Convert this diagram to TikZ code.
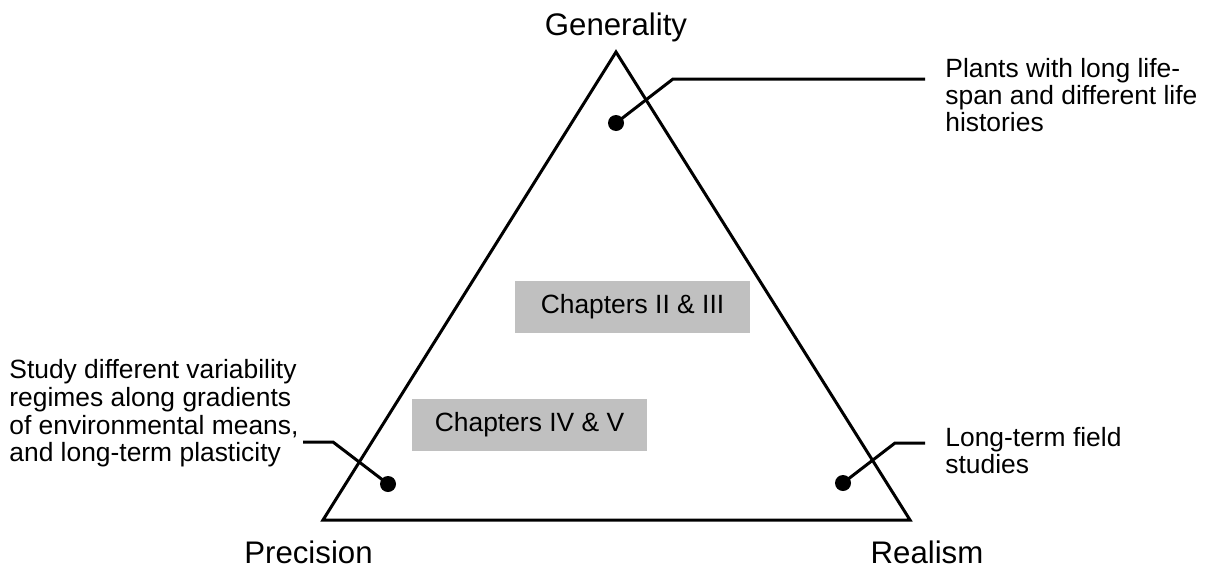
\documentclass[tikz,border=0pt]{standalone}
\usepackage{fontspec}
\setmainfont{Liberation Sans}
\usetikzlibrary{positioning}
\definecolor{chapgray}{RGB}{192,192,192}

\begin{document}
\begin{tikzpicture}[x=0.5pt, y=-0.5pt,
  edge/.style={draw, line width=1.5pt, line join=miter},
  pointer/.style={draw, line width=1.5pt},
  dot/.style={circle, fill, inner sep=0pt, minimum size=8pt},
  corner/.style={inner sep=0pt, font=\fontsize{15.6}{18}\selectfont},
  note/.style={inner sep=0pt, align=left, font=\fontsize{13.2}{13.4}\selectfont},
  chapter/.style={fill=chapgray, inner sep=0pt, minimum width=117.5pt, minimum height=26pt, font=\fontsize{13.2}{15}\selectfont}]
\useasboundingbox (0,0) rectangle (1209,568);

% triangle
\coordinate (P) at (323,520);
\coordinate (G) at (616,52);
\coordinate (R) at (910,520);
\draw[edge] (P) -- (G) -- (R) -- cycle;

\node[corner, anchor=base] (gen) at (616,35) {Generality};
\node[corner, anchor=base] (pre) at (308.5,563) {Precision};
\node[corner, anchor=base] (rea) at (927,563) {Realism};

% chapters
\node[chapter] (ch23) at (632.5,306.5) {Chapters II \& III};
\node[chapter] (ch45) at (529.5,425) {Chapters IV \& V};

% notes
\node[note, anchor=north west] (noteG) at (945,58) {Plants with long life-\\span and different life\\histories};
\node[note, anchor=north west, font=\fontsize{13.2}{13.9}\selectfont] (noteP) at (9,359) {Study different variability\\regimes along gradients\\of environmental means,\\and long-term plasticity};
\node[note, anchor=north west] (noteR) at (945,427) {Long-term field\\studies};

% pointers
\node[dot] (dG) at (616,123) {};
\node[dot] (dP) at (388,484) {};
\node[dot] (dR) at (843,483) {};
\coordinate (kG) at (673,79);
\coordinate (eG) at (925,79);
\coordinate (kP) at (333,442);
\coordinate (eP) at (303,442);
\coordinate (kR) at (895,443);
\coordinate (eR) at (925,443);
\draw[pointer] (dG.center) -- (kG) -- (eG);
\draw[pointer] (dP.center) -- (kP) -- (eP);
\draw[pointer] (dR.center) -- (kR) -- (eR);
\end{tikzpicture}
\end{document}
